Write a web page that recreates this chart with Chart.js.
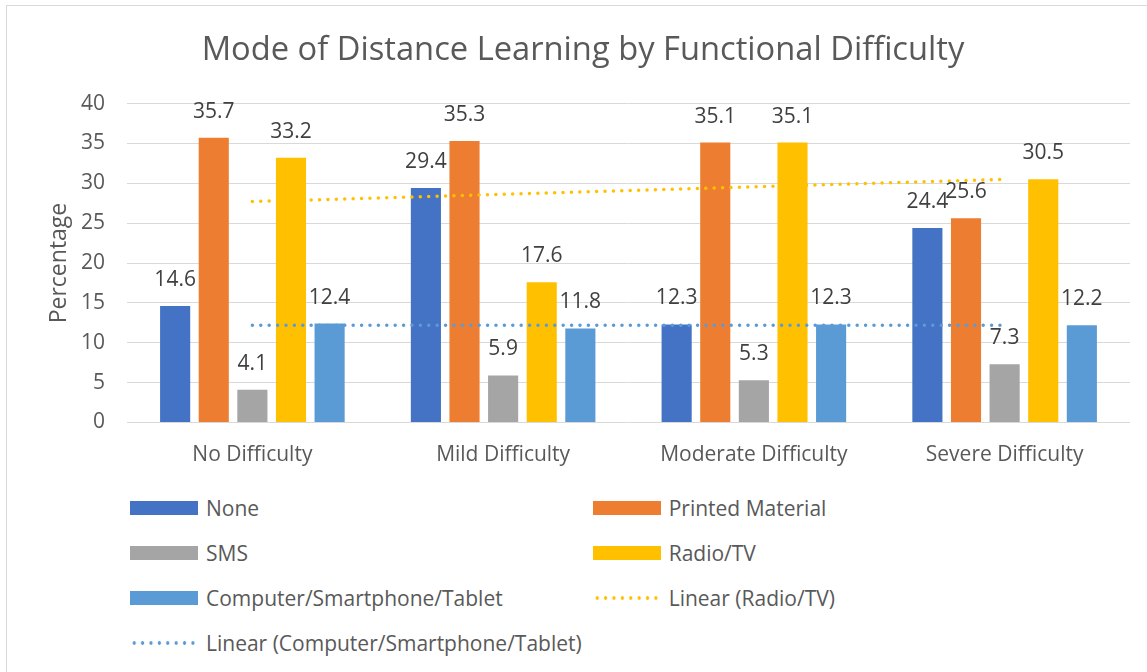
<!DOCTYPE html>
<html>
<head>
<meta charset="utf-8">
<title>Mode of Distance Learning by Functional Difficulty</title>
<script src="https://cdn.jsdelivr.net/npm/chart.js@4.4.1/dist/chart.umd.min.js"></script>
<style>
    html, body { margin: 0; padding: 0; background: #fff; overflow: hidden; }
    body { width: 1147px; height: 672px; position: relative; font-family: 'Open Sans', sans-serif; }
    #frame { position: absolute; left: 6px; top: 5px; width: 1200px; height: 700px; border: 1px solid #d9d9d9; box-sizing: border-box; }
    #chart-box { position: absolute; left: 0; top: 0; width: 1147px; height: 480px; }
    #legend { position: absolute; left: 130px; top: 485.5px; display: grid; grid-template-columns: 462.7px auto; grid-auto-rows: 45px; color: #595959; font-size: 21px; }
    .legend-item { display: flex; align-items: center; white-space: nowrap; }
    .swatch { width: 68px; height: 14px; margin-right: 8px; flex: none; }
</style>
</head>
<body>
<div id="frame"></div>
<div id="chart-box"><canvas id="distanceChart" width="1147" height="480"></canvas></div>
<div id="legend"></div>
<script>
const categories = ['No Difficulty', 'Mild Difficulty', 'Moderate Difficulty', 'Severe Difficulty'];
const noneValues = [14.6, 29.4, 12.3, 24.4];
const printedValues = [35.7, 35.3, 35.1, 25.6];
const smsValues = [4.1, 5.9, 5.3, 7.3];
const radioTvValues = [33.2, 17.6, 35.1, 30.5];
const computerValues = [12.4, 11.8, 12.3, 12.2];
// trendline ends (first and last category only)
const radioTvTrend = [27.7, null, null, 30.5];
const computerTrend = [12.2, null, null, 12.2];
const yMin = 0, yMax = 40, yStep = 5;

const textColor = '#595959';
Chart.defaults.font.family = "'Open Sans', sans-serif";

// values above each bar, like excel's "outside end" labels
const barLabels = {
    id: 'barLabels',
    afterDatasetsDraw(chart) {
        const ctx = chart.ctx;
        ctx.save();
        ctx.font = "21px 'Open Sans'";
        ctx.fillStyle = '#404040';
        ctx.textAlign = 'center';
        ctx.textBaseline = 'middle';
        chart.data.datasets.forEach((ds, i) => {
            if (ds.type === 'line') return;
            chart.getDatasetMeta(i).data.forEach((bar, j) => {
                ctx.fillText(ds.data[j].toFixed(1), bar.x, bar.y - 26);
            });
        });
        ctx.restore();
    }
};

const bar = (label, data, color) => ({
    label, data, backgroundColor: color, borderWidth: 0, order: 1,
    categoryPercentage: 0.77, barPercentage: 0.78
});
const trend = (label, data, color) => ({
    type: 'line', label, data, borderColor: color, backgroundColor: color, order: 0,
    borderWidth: 3.5, borderDash: [0, 8.4], borderCapStyle: 'round',
    pointRadius: 0, spanGaps: true, fill: false, dotted: true
});

const chart = new Chart(document.getElementById('distanceChart'), {
    type: 'bar',
    data: {
        labels: categories,
        datasets: [
            bar('None', noneValues, '#4472C4'),
            bar('Printed Material', printedValues, '#ED7D31'),
            bar('SMS', smsValues, '#A5A5A5'),
            bar('Radio/TV', radioTvValues, '#FFC000'),
            bar('Computer/Smartphone/Tablet', computerValues, '#5B9BD5'),
            trend('Linear (Radio/TV)', radioTvTrend, '#FFC000'),
            trend('Linear (Computer/Smartphone/Tablet)', computerTrend, '#5B9BD5')
        ]
    },
    options: {
        responsive: false,
        animation: false,
        // left padding shifts the title centre to where excel puts it
        layout: { padding: { left: 36, right: 17, top: 0, bottom: 0 } },
        plugins: {
            legend: { display: false },
            tooltip: { enabled: false },
            title: {
                display: true,
                text: 'Mode of Distance Learning by Functional Difficulty',
                color: textColor,
                font: { size: 32.7, weight: 'normal' },
                padding: { top: 31, bottom: 33.3 }
            }
        },
        scales: {
            x: {
                grid: { display: false },
                border: { display: false },
                ticks: { color: textColor, font: { size: 21 }, padding: 12, maxRotation: 0, autoSkip: false },
                afterFit: s => { s.height = 57.5; }
            },
            y: {
                min: yMin,
                max: yMax,
                ticks: { stepSize: yStep, color: textColor, font: { size: 21 }, padding: 22 },
                grid: { color: '#D9D9D9', drawTicks: false },
                border: { display: false },
                title: { display: true, text: 'Percentage', color: textColor, font: { size: 23 }, padding: { top: 10 } },
                afterFit: s => { s.width = 91; }
            }
        }
    },
    plugins: [barLabels]
});

// html legend in two columns, built from the datasets
const legendBox = document.getElementById('legend');
chart.data.datasets.forEach(ds => {
    const item = document.createElement('div');
    item.className = 'legend-item';
    const swatch = document.createElement('span');
    swatch.className = 'swatch';
    if (ds.dotted) {
        swatch.style.backgroundImage = `radial-gradient(circle at center, ${ds.borderColor} 1.5px, transparent 2px)`;
        swatch.style.backgroundSize = '8.4px 14px';
        swatch.style.backgroundRepeat = 'repeat-x';
    } else {
        swatch.style.background = ds.backgroundColor;
    }
    const text = document.createElement('span');
    text.textContent = ds.label;
    item.appendChild(swatch);
    item.appendChild(text);
    legendBox.appendChild(item);
});
</script>
</body>
</html>
